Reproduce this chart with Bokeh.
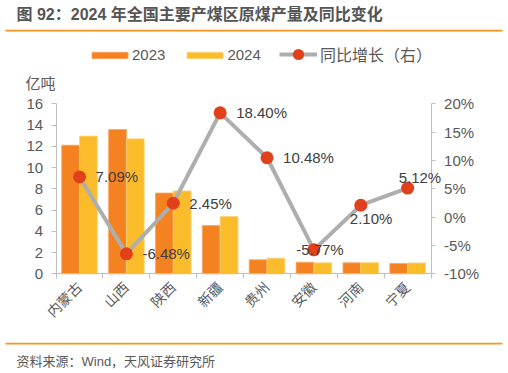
import math
from bokeh.plotting import figure
from bokeh.models import (Range1d, LinearAxis, FixedTicker, PrintfTickFormatter,
                          Legend, LegendItem, Label, BoxAnnotation, ColumnDataSource)
from bokeh.embed import file_html
from bokeh.resources import INLINE

# ---------------- data ----------------
regions = ["内蒙古", "山西", "陕西", "新疆", "贵州", "安徽", "河南", "宁夏"]
prod_2023 = [12.10, 13.58, 7.60, 4.55, 1.32, 1.09, 1.03, 0.97]
prod_2024 = [12.96, 12.70, 7.80, 5.39, 1.47, 1.03, 1.05, 1.02]
yoy_pct = [7.09, -6.48, 2.45, 18.40, 10.48, -5.77, 2.10, 5.12]
left_ticks = [0, 2, 4, 6, 8, 10, 12, 14, 16]
right_ticks = [-10, -5, 0, 5, 10, 15, 20]
title_text = "图 92：2024 年全国主要产煤区原煤产量及同比变化"
source_text = "资料来源：Wind，天风证券研究所"
unit_text = "亿吨"

# ---------------- style / layout ----------------
FONT = "Liberation Sans, Noto Sans CJK SC"
C23 = "#F58220"
C24 = "#FBBC2C"
LINE_C = "#AEAEAE"
DOT_C = "#E2401B"
AXIS_C = "#BFBFBF"
TXT_C = "#595959"
ORANGE = "#F7941D"

W, H = 508, 373
# plot-area box in canvas pixels
PL, PR, PT, PB = 55.6, 430.6, 103.3, 273.3

n = len(regions)
centers = [i + 0.5 for i in range(n)]
bw = 0.38
y_lo, y_hi = left_ticks[0], left_ticks[-1]
r_lo, r_hi = right_ticks[0], right_ticks[-1]

def extend(lo, hi, p_lo, p_hi, total, flip=False):
    k = (hi - lo) / (p_hi - p_lo)
    if not flip:
        return lo - p_lo * k, hi + (total - p_hi) * k
    return lo - (total - p_hi) * k, hi + p_lo * k

xr = extend(0, n, PL, PR, W)
yr = extend(y_lo, y_hi, PT, PB, H, flip=True)
rr = extend(r_lo, r_hi, PT, PB, H, flip=True)

src = ColumnDataSource(dict(
    xc=centers,
    x23=[c - bw / 2 for c in centers],
    x24=[c + bw / 2 for c in centers],
    v23=prod_2023, v24=prod_2024, yoy=yoy_pct,
))

p = figure(width=W, height=H, x_range=Range1d(*xr), y_range=Range1d(*yr),
           output_backend="svg", toolbar_location=None,
           x_axis_type=None, y_axis_type=None,
           min_border=0, min_border_left=0, min_border_right=0,
           min_border_top=0, min_border_bottom=0)
p.extra_y_ranges = {"pct": Range1d(*rr)}
p.outline_line_color = None
p.xgrid.visible = False
p.ygrid.visible = False
p.background_fill_color = "white"
p.border_fill_color = "white"

def style_axis(ax, size="15px"):
    ax.axis_line_color = AXIS_C
    ax.major_tick_line_color = AXIS_C
    ax.minor_tick_line_color = None
    ax.major_tick_in = 0
    ax.major_tick_out = 5
    ax.major_label_text_font = FONT
    ax.major_label_text_font_size = size
    ax.major_label_text_color = TXT_C

ly = LinearAxis(ticker=FixedTicker(ticks=left_ticks), fixed_location=0,
                bounds=(y_lo, y_hi))
style_axis(ly)
ly.major_label_standoff = 8
p.add_layout(ly, "left")

ry = LinearAxis(y_range_name="pct", ticker=FixedTicker(ticks=right_ticks),
                formatter=PrintfTickFormatter(format="%d%%"), fixed_location=n,
                bounds=(r_lo, r_hi))
style_axis(ry)
ry.major_tick_out = 4
ry.major_label_standoff = 9
p.add_layout(ry, "right")

bx = LinearAxis(ticker=FixedTicker(ticks=centers, minor_ticks=list(range(n + 1))),
                major_label_overrides={c: r for c, r in zip(centers, regions)},
                fixed_location=0, bounds=(0, n))
style_axis(bx, "14px")
bx.major_tick_line_color = None
bx.minor_tick_line_color = AXIS_C
bx.minor_tick_in = 0
bx.minor_tick_out = 5
bx.major_label_orientation = math.pi / 4
bx.major_label_standoff = 6
p.add_layout(bx, "below")

r23 = p.vbar(x="x23", top="v23", width=bw, source=src, fill_color=C23,
             line_color="#F9A564", line_width=0.8)
r24 = p.vbar(x="x24", top="v24", width=bw, source=src, fill_color=C24,
             line_color="#FDD37A", line_width=0.8)
rl = p.line(x="xc", y="yoy", source=src, y_range_name="pct", line_color=LINE_C, line_width=4)
rs = p.scatter(x="xc", y="yoy", source=src, y_range_name="pct", size=13,
               fill_color=DOT_C, line_color=None)

# data labels (offsets are purely layout)
label_style = {
    5: dict(x_offset=6, y_offset=0, text_align="center"),
    6: dict(x_offset=-11, y_offset=-13, text_align="left"),
    7: dict(x_offset=-9, y_offset=11, text_align="left"),
}
for i, (c, v) in enumerate(zip(centers, yoy_pct)):
    st = label_style.get(i, dict(x_offset=16, y_offset=0, text_align="left"))
    p.add_layout(Label(x=c, y=v, y_range_name="pct", text=f"{v:.2f}%",
                       text_font=FONT, text_font_size="15px", text_color="#404040",
                       text_baseline="middle", **st))

# legends
leg1 = Legend(items=[LegendItem(label="2023", renderers=[r23]),
                     LegendItem(label="2024", renderers=[r24])],
              orientation="horizontal", location=(87, 310),
              glyph_width=45, glyph_height=8, label_standoff=0, spacing=17,
              padding=0, margin=0, border_line_color=None, background_fill_alpha=0,
              label_text_font=FONT, label_text_font_size="15px", label_text_color=TXT_C)
leg2 = Legend(items=[LegendItem(label="同比增长（右）", renderers=[rl, rs])],
              orientation="horizontal", location=(279, 305),
              glyph_width=38, glyph_height=28, label_standoff=3,
              padding=0, margin=0, border_line_color=None, background_fill_alpha=0,
              label_text_font=FONT, label_text_font_size="16px", label_text_color=TXT_C)
p.add_layout(leg1, "center")
p.add_layout(leg2, "center")

# title, rules, unit, source
p.add_layout(Label(x=16, y=13.5, x_units="canvas", y_units="canvas", text=title_text,
                   text_font=FONT, text_font_size="16px", text_font_style="bold",
                   text_color="#555555", text_baseline="middle"))
p.add_layout(BoxAnnotation(left=5, right=502, top=29.3, bottom=31,
                           left_units="canvas", right_units="canvas",
                           top_units="canvas", bottom_units="canvas",
                           fill_color=ORANGE, fill_alpha=1, line_color=None))
p.add_layout(BoxAnnotation(left=5, right=502, top=342.3, bottom=344,
                           left_units="canvas", right_units="canvas",
                           top_units="canvas", bottom_units="canvas",
                           fill_color=ORANGE, fill_alpha=1, line_color=None))
p.add_layout(Label(x=25, y=83, x_units="canvas", y_units="canvas", text=unit_text,
                   text_font=FONT, text_font_size="15px", text_color=TXT_C,
                   text_baseline="middle"))
p.add_layout(Label(x=16, y=361, x_units="canvas", y_units="canvas", text=source_text,
                   text_font=FONT, text_font_size="13px", text_color=TXT_C,
                   text_baseline="middle"))

open("out.html", "w").write(file_html(p, INLINE))
